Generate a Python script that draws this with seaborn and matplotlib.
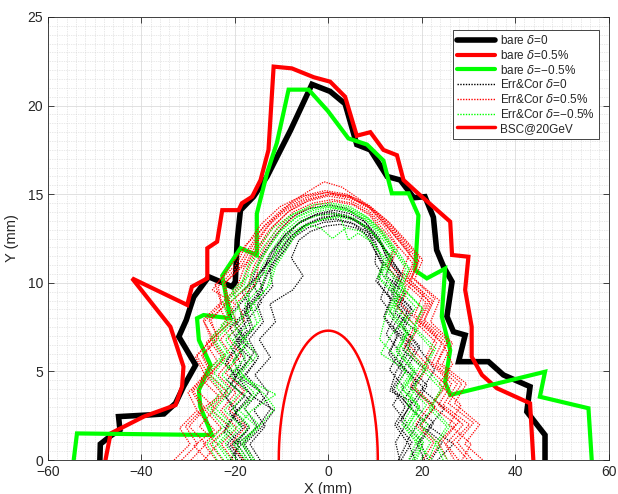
import numpy as np
import pandas as pd
import matplotlib
matplotlib.use("Agg")
import matplotlib.pyplot as plt
from matplotlib.lines import Line2D
from matplotlib.ticker import MultipleLocator
import seaborn as sns

# ---------------- data ----------------
bare0_x = [-48.9, -48.8, -46.4, -44.6, -44.9, -38.0, -35.2, -32.7, -31.0, -28.4, -32.0, -30.4, -29.5, -28.8,
           -25.6, -20.6, -19.9, -19.5, -18.8, -16.0, -13.1, -8.1, -3.5, 0.4, 3.6, 6.1, 9.0, 12.6, 15.4, 18.3,
           20.7, 22.5, 23.2, 24.7, 26.5, 25.4, 26.8, 29.3, 27.9, 34.3, 37.5, 43.2, 42.5, 46.4, 46.4]
bare0_y = [0.0, 0.9, 1.4, 1.7, 2.45, 2.55, 2.6, 3.2, 4.14, 5.36, 6.96, 7.9, 8.65, 9.2,
           10.34, 9.78, 10.06, 12.4, 14.1, 14.86, 16.0, 18.6, 21.2, 20.8, 20.1, 17.8, 17.5, 16.0, 15.8, 14.8,
           14.86, 13.7, 11.85, 10.9, 10.06, 8.1, 7.24, 7.05, 5.55, 5.55, 4.8, 4.14, 2.73, 1.41, 0.0]

barep_x = [-47.7, -46.6, -39.5, -32.7, -31.3, -31.0, -33.8, -42.0, -30.2, -29.2, -25.9, -25.9, -23.8, -22.7,
           -19.2, -18.5, -16.3, -14.5, -12.8, -11.7, -7.8, -3.1, 0.4, 3.6, 6.1, 9.0, 11.8, 14.7, 16.1, 19.0,
           26.1, 26.5, 30.0, 29.3, 30.7, 30.7, 32.9, 36.1, 43.2, 43.9]
barep_y = [0.0, 1.5, 2.45, 3.1, 4.14, 5.27, 7.52, 10.25, 8.75, 9.78, 10.25, 11.95, 12.32, 14.1,
           14.1, 14.49, 14.86, 15.8, 17.5, 22.2, 22.1, 21.6, 21.35, 20.5, 18.3, 18.5, 17.5, 17.2, 15.8, 15.1,
           13.45, 11.57, 11.47, 9.6, 7.52, 5.83, 4.8, 4.05, 3.2, 0.0]

barem_x = [-54.5, -53.8, -24.9, -27.4, -27.7, -25.2, -27.7, -28.1, -26.7, -21.0, -22.7, -18.8, -15.3, -15.3,
           -13.1, -11.0, -8.5, -4.2, -0.1, 4.3, 8.3, 11.8, 13.6, 17.2, 19.3, 18.6, 21.1, 25.0, 24.3, 26.1,
           25.0, 26.1, 46.4, 45.3, 55.7, 56.4]
barem_y = [0.0, 1.5, 1.41, 3.0, 3.95, 5.36, 6.77, 8.0, 8.18, 8.0, 10.4, 11.95, 11.57, 13.9,
           16.2, 17.9, 20.9, 20.9, 19.7, 18.15, 17.8, 16.9, 15.05, 15.05, 13.8, 10.7, 10.25, 10.8, 8.1, 6.2,
           4.4, 3.67, 4.98, 3.57, 2.92, 0.0]

# Err&Cor seeds, delta = 0 (black)
ec0_x = [
    [-18.5, -20.9, -17.2, -20.6, -16.8, -21.0, -18.1, -15.9, -19.8, -17.0, -14.3, -16.2, -12.9, -10.1, -6.6, -3.0,
     0.5, 4.1, 7.4, 10.1, 11.4, 14.2, 12.6, 15.9, 13.8, 17.6, 15.2, 18.9, 16.1, 19.8, 16.9, 18.6],
    [-15.8, -17.9, -14.1, -11.6, -16.3, -18.9, -15.7, -19.2, -16.0, -17.6, -13.9, -15.1, -11.2, -8.2, -5.3, -1.9,
     1.6, 5.0, 7.9, 9.6, 11.8, 10.2, 13.4, 11.9, 15.1, 13.2, 16.6, 14.0, 17.4, 14.8, 17.9, 15.6],
    [-21.0, -19.2, -22.4, -19.6, -21.8, -18.9, -22.1, -20.0, -18.4, -21.0, -17.5, -16.1, -14.6, -11.3, -7.8, -4.0,
     0.1, 3.8, 7.3, 10.4, 13.1, 15.6, 13.9, 17.8, 15.9, 19.6, 17.1, 21.2, 18.4, 22.6, 19.7, 21.3],
    [-17.2, -19.5, -15.0, -12.3, -14.8, -18.6, -20.3, -17.1, -20.0, -16.4, -18.5, -14.4, -12.0, -9.0, -5.7, -2.3,
     1.2, 4.7, 8.0, 11.0, 12.3, 15.2, 13.4, 17.1, 15.0, 18.7, 16.2, 20.3, 17.4, 21.8, 19.0, 20.6],
    [-19.4, -21.6, -18.3, -21.2, -17.9, -21.7, -18.6, -20.9, -17.4, -18.8, -15.0, -13.4, -10.8, -8.3, -5.3, -1.8,
     2.0, 5.5, 8.6, 11.2, 12.8, 15.3, 13.6, 16.9, 14.2, 17.6, 14.5, 13.2, 17.9, 15.6, 19.8, 17.3],
    [-20.9, -18.6, -22.2, -19.4, -22.5, -19.8, -21.7, -18.9, -21.1, -17.5, -16.9, -14.0, -12.6, -9.6, -6.2, -2.8,
     0.8, 4.4, 7.6, 10.5, 13.8, 12.4, 16.4, 14.3, 18.7, 16.0, 20.8, 17.7, 22.9, 19.6, 24.4, 22.0],
    [-16.5, -18.4, -15.2, -17.9, -14.6, -17.6, -14.9, -17.0, -13.9, -15.2, -11.9, -12.6, -9.4, -7.2, -4.4, -1.1,
     2.3, 5.7, 8.7, 10.3, 10.0, 12.6, 11.2, 14.1, 12.4, 15.3, 13.1, 16.2, 13.8, 16.8, 14.4, 15.3],
    [-18.0, -20.2, -16.9, -19.9, -16.5, -20.4, -17.6, -19.6, -16.6, -17.9, -14.6, -13.0, -10.3, -7.7, -4.8, -1.4,
     2.1, 5.4, 8.5, 11.3, 13.2, 16.0, 14.5, 18.2, 16.2, 19.4, 22.8, 20.1, 24.9, 21.6, 26.8, 23.4],
    [-14.6, -16.8, -13.5, -15.9, -12.8, -15.7, -12.4, -14.8, -11.3, -12.5, -7.6, -5.4, -7.9, -6.3, -3.8, -0.6,
     2.6, 5.9, 8.9, 9.8, 11.6, 10.7, 13.5, 12.0, 14.7, 12.9, 15.8, 13.6, 16.5, 14.2, 16.9, 15.0],
]
ec0_y = [
    [0, 0.8, 1.7, 2.5, 3.4, 4.3, 5.2, 6.1, 7.0, 8.0, 8.9, 10.0, 11.1, 12.3, 13.3, 13.8,
     14.0, 13.8, 13.2, 12.3, 11.3, 10.4, 9.4, 8.4, 7.5, 6.5, 5.5, 4.4, 3.4, 2.3, 1.1, 0],
    [0, 0.9, 1.9, 2.8, 3.6, 4.5, 5.5, 6.4, 7.4, 8.4, 9.4, 10.5, 11.6, 12.6, 13.2, 13.5,
     13.6, 13.4, 12.8, 12.0, 11.0, 10.1, 9.1, 8.1, 7.1, 6.1, 5.0, 4.0, 3.0, 2.0, 1.0, 0],
    [0, 0.8, 1.6, 2.6, 3.5, 4.5, 5.4, 6.4, 7.3, 8.2, 9.2, 10.3, 11.4, 12.7, 13.7, 14.2,
     14.4, 14.2, 13.6, 12.6, 11.5, 10.5, 9.6, 8.6, 7.5, 6.4, 5.3, 4.2, 3.1, 2.1, 1.0, 0],
    [0, 0.9, 1.9, 2.9, 3.9, 4.6, 5.6, 6.6, 7.6, 8.5, 9.5, 10.6, 11.7, 12.8, 13.5, 13.9,
     14.1, 13.9, 13.4, 12.5, 11.5, 10.6, 9.5, 8.5, 7.4, 6.3, 5.2, 4.1, 3.0, 1.9, 0.9, 0],
    [0, 0.9, 1.8, 2.7, 3.6, 4.5, 5.4, 6.4, 7.3, 8.3, 9.4, 10.4, 11.6, 12.5, 13.2, 13.6,
     13.8, 13.6, 13.1, 12.2, 11.3, 10.3, 9.3, 8.3, 7.3, 6.2, 5.0, 3.9, 3.3, 2.2, 1.1, 0],
    [0, 0.9, 1.8, 2.8, 3.7, 4.6, 5.6, 6.5, 7.5, 8.4, 9.4, 10.5, 11.6, 12.6, 13.4, 13.8,
     13.9, 13.7, 13.2, 12.4, 11.4, 10.4, 9.4, 8.3, 7.3, 6.2, 5.1, 4.1, 3.0, 2.0, 1.0, 0],
    [0, 0.9, 1.9, 2.9, 3.9, 4.8, 5.8, 6.8, 7.8, 8.8, 9.8, 10.9, 11.8, 12.6, 13.1, 13.4,
     13.5, 13.3, 12.8, 12.0, 11.1, 10.1, 9.1, 8.1, 7.1, 6.1, 5.1, 4.1, 3.1, 2.1, 1.0, 0],
    [0, 0.8, 1.8, 2.7, 3.7, 4.6, 5.5, 6.5, 7.4, 8.4, 9.4, 10.5, 11.5, 12.5, 13.3, 13.7,
     13.8, 13.6, 13.1, 12.3, 11.4, 10.4, 9.4, 8.4, 7.4, 6.3, 5.1, 4.0, 2.9, 1.9, 0.9, 0],
    [0, 0.9, 1.9, 2.8, 3.8, 4.8, 5.8, 6.8, 7.8, 8.8, 9.6, 10.4, 11.4, 12.4, 12.9, 13.2,
     13.3, 13.1, 12.6, 11.9, 11.0, 10.0, 9.0, 8.0, 7.0, 6.0, 5.0, 4.0, 3.0, 2.0, 1.0, 0],
]

# Err&Cor seeds, delta = +0.5% (red)
ecp_x = [
    [-24.0, -26.7, -22.9, -26.3, -22.6, -25.9, -22.5, -25.4, -21.4, -23.5, -19.6, -18.1, -15.4, -12.6, -8.6, -4.4,
     0.0, 4.4, 8.5, 12.0, 14.8, 18.1, 16.4, 20.9, 18.7, 23.2, 20.6, 25.4, 22.0, 27.3, 23.6, 25.5],
    [-31.4, -28.0, -30.6, -26.9, -29.3, -25.8, -28.2, -24.7, -26.8, -23.0, -24.2, -19.8, -17.6, -14.4, -10.3, -5.6,
     -0.7, 4.0, 8.6, 12.6, 15.9, 19.5, 17.9, 22.8, 20.6, 25.7, 23.4, 28.6, 25.7, 31.1, 27.6, 30.8],
    [-20.4, -22.9, -19.6, -23.0, -19.8, -23.6, -20.4, -23.1, -19.6, -21.3, -17.2, -16.0, -13.6, -10.9, -7.5, -3.3,
     0.9, 5.0, 8.9, 11.8, 14.9, 13.3, 17.6, 15.5, 19.8, 17.2, 21.4, 18.6, 22.9, 19.7, 23.8, 21.6],
    [-26.6, -23.7, -27.6, -24.2, -28.0, -24.6, -26.9, -23.4, -25.6, -21.3, -22.1, -17.6, -15.2, -12.0, -7.7, -3.4,
     -0.9, 2.9, 6.8, 10.9, 14.2, 17.5, 15.8, 20.4, 18.5, 23.2, 20.9, 25.8, 22.7, 28.1, 24.6, 27.0],
    [-22.6, -25.3, -21.3, -25.0, -21.6, -25.4, -22.0, -24.9, -20.8, -22.4, -18.6, -17.1, -14.6, -11.7, -8.2, -4.0,
     0.4, 4.7, 8.8, 12.2, 15.4, 18.6, 17.0, 21.5, 19.4, 24.3, 22.1, 26.4, 23.6, 28.9, 25.2, 27.9],
    [-18.2, -20.9, -17.6, -21.4, -18.0, -22.0, -18.6, -21.5, -17.9, -19.5, -15.7, -14.9, -12.6, -10.0, -6.7, -2.7,
     1.3, 5.3, 8.9, 11.4, 14.0, 12.6, 16.6, 14.5, 18.6, 16.3, 20.4, 17.6, 21.8, 18.7, 22.6, 20.3],
    [-33.0, -29.6, -31.8, -28.1, -30.0, -26.4, -28.4, -25.0, -26.6, -22.8, -23.6, -19.4, -16.9, -13.8, -9.7, -5.1,
     -0.3, 4.5, 8.9, 13.1, 16.6, 20.2, 18.5, 23.8, 21.9, 26.6, 24.4, 29.6, 27.0, 32.4, 29.2, 33.1],
    [-25.8, -28.8, -24.4, -27.9, -23.4, -27.3, -23.8, -26.2, -22.6, -19.9, -24.8, -21.1, -17.8, -13.2, -9.0, -4.8,
     -0.4, 4.2, 8.6, 12.2, 15.6, 19.0, 17.3, 21.8, 19.6, 24.5, 26.6, 23.7, 28.4, 25.9, 30.6, 28.6],
    [-29.4, -26.2, -29.8, -26.4, -28.9, -25.2, -27.1, -23.8, -25.1, -21.7, -22.4, -18.5, -16.2, -13.0, -9.0, -4.7,
     0.2, 4.8, 9.2, 12.9, 16.1, 19.4, 17.6, 22.3, 20.4, 25.3, 23.0, 27.6, 24.6, 30.2, 26.5, 29.9],
]
ecp_y = [
    [0, 0.9, 1.8, 2.8, 3.7, 4.7, 5.7, 6.7, 7.7, 8.7, 9.7, 10.8, 11.9, 13.0, 14.0, 14.6,
     14.9, 14.7, 14.1, 13.2, 12.1, 11.1, 10.0, 8.9, 7.8, 6.6, 5.4, 4.2, 3.1, 2.0, 1.0, 0],
    [0, 0.9, 1.9, 2.9, 3.9, 4.9, 5.9, 6.9, 7.9, 8.9, 9.9, 11.0, 12.1, 13.3, 14.3, 14.9,
     15.2, 15.0, 14.4, 13.5, 12.5, 11.4, 10.3, 9.1, 7.9, 6.7, 5.5, 4.3, 3.2, 2.1, 1.0, 0],
    [0, 0.9, 1.8, 2.8, 3.8, 4.8, 5.8, 6.8, 7.8, 8.8, 9.8, 10.9, 12.0, 13.1, 14.0, 14.5,
     14.7, 14.5, 13.9, 13.0, 12.0, 11.0, 9.9, 8.8, 7.7, 6.5, 5.3, 4.1, 3.0, 1.9, 0.9, 0],
    [0, 0.9, 1.9, 2.9, 3.9, 4.9, 5.9, 6.9, 7.9, 8.9, 10.0, 11.1, 12.3, 13.5, 14.6, 15.3,
     15.7, 15.4, 14.7, 13.8, 12.8, 11.7, 10.6, 9.4, 8.2, 7.0, 5.8, 4.6, 3.4, 2.2, 1.1, 0],
    [0, 0.9, 1.9, 2.8, 3.8, 4.8, 5.8, 6.8, 7.8, 8.8, 9.8, 10.9, 12.0, 13.2, 14.1, 14.7,
     15.0, 14.8, 14.2, 13.3, 12.3, 11.2, 10.1, 9.0, 7.8, 6.6, 5.4, 4.3, 3.1, 2.0, 0.9, 0],
    [0, 0.9, 1.9, 2.9, 3.9, 4.9, 5.9, 6.9, 7.9, 8.9, 9.9, 11.0, 12.1, 13.1, 13.9, 14.4,
     14.6, 14.4, 13.8, 12.9, 11.9, 10.9, 9.8, 8.7, 7.6, 6.4, 5.3, 4.2, 3.1, 2.0, 1.0, 0],
    [0, 0.9, 1.8, 2.8, 3.8, 4.8, 5.8, 6.8, 7.8, 8.8, 9.8, 10.9, 12.0, 13.2, 14.2, 14.9,
     15.1, 14.9, 14.3, 13.4, 12.4, 11.3, 10.2, 9.0, 7.8, 6.6, 5.4, 4.3, 3.2, 2.0, 0.9, 0],
    [0, 0.8, 1.7, 2.7, 3.6, 4.6, 5.6, 6.6, 7.6, 8.8, 9.6, 10.9, 12.1, 13.3, 14.2, 14.8,
     15.1, 14.9, 14.3, 13.3, 12.2, 11.1, 10.0, 8.9, 7.8, 6.6, 5.4, 4.3, 3.1, 2.0, 0.9, 0],
    [0, 0.9, 1.9, 2.9, 3.9, 4.9, 5.9, 6.9, 7.9, 8.9, 9.9, 11.0, 12.1, 13.2, 14.1, 14.7,
     15.0, 14.8, 14.2, 13.3, 12.3, 11.2, 10.1, 9.0, 7.8, 6.6, 5.4, 4.3, 3.1, 2.0, 1.0, 0],
]

# Err&Cor seeds, delta = -0.5% (green)
ecm_x = [
    [-19.6, -22.1, -18.6, -22.3, -18.9, -22.8, -19.4, -22.0, -18.2, -19.4, -15.6, -14.3, -11.9, -9.3, -6.2, -2.6,
     1.2, 4.9, 8.2, 10.9, 13.6, 12.2, 15.9, 14.0, 17.8, 15.6, 19.6, 16.9, 21.0, 18.0, 21.9, 19.8],
    [-17.2, -19.6, -14.8, -11.4, -13.6, -17.8, -20.5, -17.6, -20.2, -16.3, -17.8, -13.2, -10.8, -8.0, -4.9, -1.7,
     0.9, 3.8, 7.1, 9.6, 12.4, 10.9, 14.9, 13.0, 16.9, 14.6, 18.4, 15.8, 19.6, 16.9, 20.2, 18.4],
    [-22.4, -24.9, -21.0, -25.2, -21.6, -25.6, -22.0, -24.6, -20.6, -22.0, -18.0, -16.6, -14.0, -11.0, -7.4, -3.4,
     0.7, 4.7, 8.4, 11.7, 14.5, 17.4, 15.8, 20.3, 18.3, 22.4, 20.1, 24.1, 21.6, 25.4, 22.9, 24.6],
    [-16.3, -18.6, -15.4, -19.1, -15.9, -19.6, -16.4, -18.9, -15.2, -16.6, -13.1, -12.0, -9.9, -7.4, -4.2, -1.0,
     2.5, 4.3, 6.4, 9.3, 11.9, 10.6, 14.2, 12.3, 11.0, 13.9, 16.7, 14.6, 18.0, 15.8, 18.8, 17.2],
    [-20.6, -23.4, -19.8, -16.4, -11.2, -17.9, -23.2, -20.1, -23.0, -19.1, -20.6, -15.6, -13.2, -10.4, -6.9, -3.1,
     0.8, 4.7, 8.2, 11.3, 14.2, 12.8, 16.6, 14.8, 18.9, 16.9, 20.8, 18.4, 22.4, 19.6, 23.1, 21.4],
    [-23.8, -26.0, -22.4, -25.9, -22.8, -26.1, -22.7, -25.2, -21.3, -22.6, -18.7, -17.2, -14.8, -11.8, -8.1, -4.2,
     -0.2, 3.9, 7.8, 11.2, 14.1, 17.2, 15.6, 20.1, 18.4, 23.0, 20.8, 24.6, 22.2, 26.0, 23.4, 25.5],
    [-17.7, -20.3, -16.8, -20.5, -17.3, -21.0, -17.7, -20.3, -16.5, -17.9, -14.2, -13.0, -10.9, -8.5, -5.6, -2.1,
     1.5, 5.1, 8.1, 10.4, 12.9, 11.5, 14.8, 13.1, 16.6, 14.5, 18.1, 15.6, 19.2, 16.3, 19.6, 18.0],
    [-21.4, -23.8, -20.3, -24.1, -20.8, -24.5, -21.2, -23.7, -19.9, -21.1, -17.1, -15.5, -13.1, -10.2, -6.8, -3.0,
     0.9, 4.8, 8.4, 11.4, 14.0, 16.6, 14.9, 18.8, 13.6, 11.2, 15.4, 18.9, 16.8, 21.3, 18.6, 22.4],
    [-15.8, -18.2, -14.6, -18.0, -14.9, -18.6, -15.3, -17.9, -14.5, -15.9, -12.4, -11.3, -9.1, -7.0, -4.2, -0.9,
     2.6, 5.8, 8.8, 11.1, 13.4, 12.2, 15.3, 13.9, 17.0, 15.2, 18.6, 16.4, 19.6, 17.3, 20.4, 18.9],
]
ecm_y = [
    [0, 0.9, 1.9, 2.8, 3.8, 4.8, 5.8, 6.8, 7.8, 8.8, 9.8, 10.9, 11.9, 12.9, 13.6, 14.0,
     14.2, 14.0, 13.5, 12.7, 11.8, 10.8, 9.7, 8.6, 7.5, 6.4, 5.3, 4.2, 3.1, 2.0, 1.0, 0],
    [0, 0.9, 1.9, 2.9, 3.7, 4.6, 5.6, 6.6, 7.6, 8.6, 9.6, 10.7, 11.8, 12.8, 13.3, 13.1,
     12.5, 13.1, 12.9, 12.2, 11.3, 10.3, 9.3, 8.2, 7.1, 6.1, 5.0, 4.0, 3.0, 1.9, 0.9, 0],
    [0, 0.9, 1.9, 2.9, 3.9, 4.9, 5.9, 6.9, 7.9, 8.9, 9.9, 11.0, 12.0, 13.0, 13.9, 14.4,
     14.5, 14.3, 13.7, 12.9, 11.9, 10.8, 9.7, 8.5, 7.4, 6.2, 5.1, 4.0, 2.9, 1.9, 0.9, 0],
    [0, 0.9, 1.9, 2.8, 3.8, 4.8, 5.8, 6.7, 7.7, 8.7, 9.7, 10.7, 11.8, 12.7, 13.3, 13.6,
     13.8, 12.4, 12.8, 12.3, 11.3, 10.3, 9.3, 8.2, 6.8, 6.0, 5.1, 4.1, 3.0, 2.0, 1.0, 0],
    [0, 0.9, 1.8, 2.8, 3.7, 4.6, 5.6, 6.6, 7.6, 8.6, 9.6, 10.7, 11.8, 12.9, 13.7, 14.2,
     14.4, 14.2, 13.7, 12.9, 11.9, 10.8, 9.7, 8.6, 7.5, 6.3, 5.2, 4.1, 3.0, 2.0, 1.0, 0],
    [0, 0.9, 1.9, 2.9, 3.9, 4.9, 5.9, 6.9, 7.9, 8.9, 9.9, 11.0, 12.1, 13.1, 13.8, 14.2,
     14.3, 14.1, 13.6, 12.8, 11.8, 10.8, 9.8, 8.6, 7.5, 6.3, 5.2, 4.1, 3.0, 1.9, 0.9, 0],
    [0, 0.9, 1.9, 2.9, 3.9, 4.8, 5.8, 6.8, 7.8, 8.8, 9.8, 10.9, 11.9, 12.9, 13.5, 13.8,
     13.9, 13.7, 13.2, 12.5, 11.5, 10.5, 9.4, 8.4, 7.3, 6.2, 5.1, 4.1, 3.0, 1.9, 0.9, 0],
    [0, 0.9, 1.9, 2.9, 3.9, 4.9, 5.9, 6.9, 7.9, 8.9, 9.9, 10.9, 11.9, 12.9, 13.7, 14.1,
     14.3, 14.1, 13.6, 12.8, 11.8, 10.8, 9.7, 8.6, 7.1, 6.0, 5.3, 4.2, 3.1, 2.0, 1.0, 0],
    [0, 0.9, 1.9, 2.9, 3.9, 4.9, 5.9, 6.9, 7.9, 8.9, 9.9, 10.9, 11.8, 12.7, 13.3, 13.6,
     13.7, 13.5, 13.0, 12.4, 11.4, 10.4, 9.4, 8.3, 7.3, 6.2, 5.1, 4.1, 3.0, 2.0, 1.0, 0],
]

# Beam stay clear ellipse semi-axes (mm)
bsc_a = 10.6
bsc_b = 7.3

legend_labels = [r"bare $\delta$=0", r"bare $\delta$=0.5%", "bare $\\delta$=\u22120.5%",
                 r"Err&Cor $\delta$=0", r"Err&Cor $\delta$=0.5%", "Err&Cor $\\delta$=\u22120.5%",
                 "BSC@20GeV"]
x_ticks = [-60, -40, -20, 0, 20, 40, 60]
y_ticks = [0, 5, 10, 15, 20, 25]

# ---------------- plotting ----------------
sns.set_style("white")
plt.rcParams["font.family"] = ["Liberation Sans", "DejaVu Sans"]
plt.rcParams["axes.unicode_minus"] = True

BLACK = "#000000"
RED = "#ff0000"
GREEN = "#00ff00"
DOT = (0, (1, 1))

fig = plt.figure(figsize=(6.18, 4.94), dpi=100)
ax = fig.add_axes([0.0777, 0.0688, 0.907, 0.8968])


def long_df(xs, ys):
    rows = []
    for i, (xx, yy) in enumerate(zip(xs, ys)):
        for j, (a, b) in enumerate(zip(xx, yy)):
            rows.append((i, j, a, b))
    return pd.DataFrame(rows, columns=["run", "k", "x", "y"])


# bare lattice apertures
for bx, by, col, lw in [(bare0_x, bare0_y, BLACK, 4.0),
                        (barep_x, barep_y, RED, 3.0),
                        (barem_x, barem_y, GREEN, 3.0)]:
    sns.lineplot(x=bx, y=by, sort=False, estimator=None, color=col, lw=lw, ax=ax,
                 solid_joinstyle="miter")

# error & correction seeds
for xs, ys, col in [(ec0_x, ec0_y, BLACK), (ecp_x, ecp_y, RED), (ecm_x, ecm_y, GREEN)]:
    df = long_df(xs, ys)
    sns.lineplot(data=df, x="x", y="y", units="run", estimator=None, sort=False,
                 color=col, lw=0.9, linestyle=DOT, ax=ax)

# BSC ellipse
th = np.linspace(np.pi, 0, 200)
sns.lineplot(x=bsc_a * np.cos(th), y=bsc_b * np.sin(th), sort=False, estimator=None,
             color=RED, lw=1.8, ax=ax)

ax.set_xlim(-60, 60)
ax.set_ylim(0, 25)
ax.set_xticks(x_ticks)
ax.set_yticks(y_ticks)
ax.xaxis.set_minor_locator(MultipleLocator(2))
ax.yaxis.set_minor_locator(MultipleLocator(0.5))
ax.grid(True, which="major", color="#dcdcdc", lw=0.6, linestyle="-")
ax.grid(True, which="minor", color="#d2d2d2", lw=0.5, linestyle=(0, (1, 1.5)))
ax.set_axisbelow(True)
ax.tick_params(which="major", direction="in", length=4, width=0.6, colors="#262626",
               labelsize=10, top=True, right=True, bottom=True, left=True)
ax.tick_params(which="minor", length=0)
for s in ax.spines.values():
    s.set_color("#262626")
    s.set_linewidth(0.6)

ax.set_xlabel("X (mm)", fontsize=10.5, color="#262626", labelpad=2)
ax.set_ylabel("Y (mm)", fontsize=10.5, color="#262626", labelpad=6)

handles = [
    Line2D([], [], color=BLACK, lw=4.0),
    Line2D([], [], color=RED, lw=3.0),
    Line2D([], [], color=GREEN, lw=3.0),
    Line2D([], [], color=BLACK, lw=1.0, linestyle=DOT),
    Line2D([], [], color=RED, lw=1.0, linestyle=DOT),
    Line2D([], [], color=GREEN, lw=1.0, linestyle=DOT),
    Line2D([], [], color=RED, lw=2.5),
]
leg = ax.legend(handles, legend_labels, loc="upper right", bbox_to_anchor=(0.983, 0.971),
                borderaxespad=0, fontsize=8.5, frameon=True, fancybox=False, handlelength=3.2,
                handletextpad=0.4, labelspacing=0.15, borderpad=0.35)
leg.get_frame().set_edgecolor("#262626")
leg.get_frame().set_linewidth(0.6)
leg.get_frame().set_facecolor("white")
leg.get_frame().set_alpha(1)

fig.savefig("out.png", dpi=100)
